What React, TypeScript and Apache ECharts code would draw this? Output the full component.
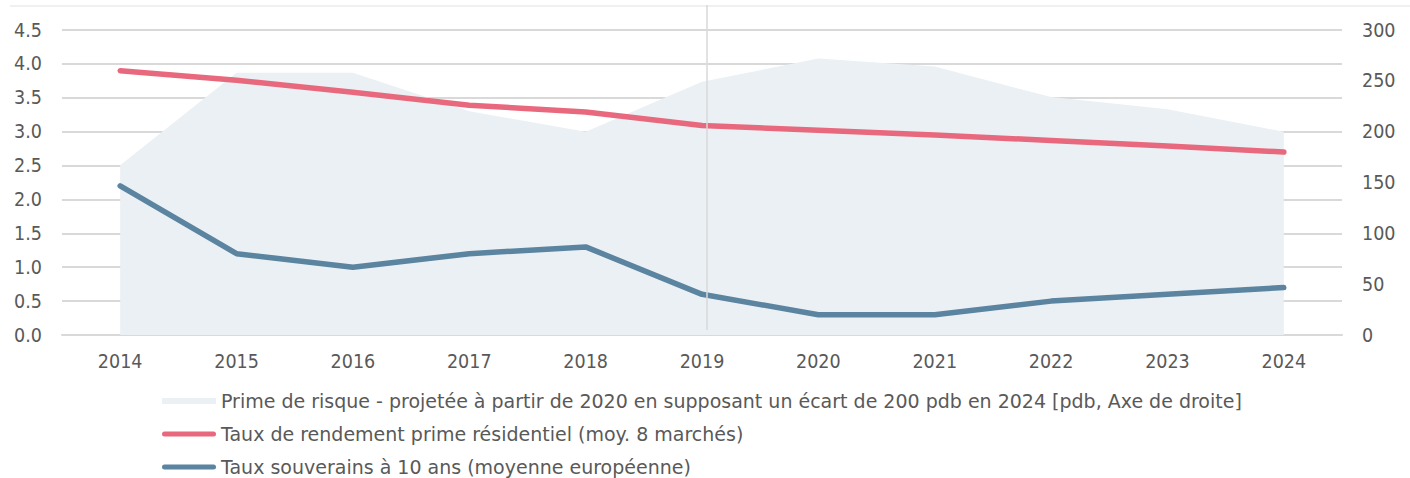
import React, { useEffect, useRef } from "react";
import * as echarts from "echarts";

const years = ["2014", "2015", "2016", "2017", "2018", "2019", "2020", "2021", "2022", "2023", "2024"];
const riskPremium = [167, 258, 258, 220, 200, 249, 272, 264, 234, 222, 200];
const primeYield = [3.9, 3.76, 3.58, 3.39, 3.29, 3.09, 3.02, 2.95, 2.87, 2.79, 2.7];
const sovereign10y = [2.2, 1.2, 1.0, 1.2, 1.3, 0.6, 0.3, 0.3, 0.5, 0.6, 0.7];

const nameArea = "Prime de risque - projetée à partir de 2020 en supposant un écart de 200 pdb en 2024 [pdb, Axe de droite]";
const nameRed = "Taux de rendement prime résidentiel (moy. 8 marchés)";
const nameBlue = "Taux souverains à 10 ans (moyenne européenne)";

const AXFONT = "DejaVu Sans Condensed";
const LGFONT = "DejaVu Sans";
const TXT = "#595959";
const GRID = "#D9D9D9";
const lineIcon = "path://M2.5,0 L51.5,0 A2.5,2.5 0 0 1 51.5,5 L2.5,5 A2.5,2.5 0 0 1 2.5,0 Z";

const legendItem = (name: string, icon: string, top: number) => ({
  orient: "horizontal",
  left: 162,
  top,
  padding: 0,
  itemWidth: 54,
  itemHeight: 6,
  textStyle: { fontFamily: LGFONT, fontSize: 19, color: TXT, lineHeight: 20 },
  data: [{ name, icon }],
});

export default function App() {
  const ref = useRef<HTMLDivElement>(null);
  useEffect(() => {
    if (!ref.current) return;
    const chart = echarts.init(ref.current, undefined, { renderer: "svg" });
    chart.setOption({
      animation: false,
      textStyle: { fontFamily: AXFONT },
      grid: { left: 62, right: 68, top: 30, bottom: 143, containLabel: false },
      legend: [
        legendItem(nameArea, "rect", 391),
        legendItem(nameRed, lineIcon, 424),
        legendItem(nameBlue, lineIcon, 457),
      ],
      graphic: [
        { type: "line", shape: { x1: 10, y1: 6, x2: 1410, y2: 6 }, style: { stroke: "#F0F0F0", lineWidth: 2 } },
        { type: "line", z: 10, shape: { x1: 707, y1: 5, x2: 707, y2: 330 }, style: { stroke: "#D9D9D9", lineWidth: 1.5 } },
      ],
      xAxis: {
        type: "category",
        data: years,
        boundaryGap: true,
        axisLine: { show: true, lineStyle: { color: GRID, width: 2 } },
        axisTick: { show: false },
        axisLabel: { color: TXT, fontSize: 19.5, margin: 16, fontFamily: AXFONT },
      },
      yAxis: [
        {
          type: "value",
          min: 0,
          max: 4.5,
          interval: 0.5,
          axisLine: { show: false },
          axisTick: { show: false },
          splitLine: { lineStyle: { color: GRID, width: 2 } },
          axisLabel: { color: TXT, fontSize: 19.5, margin: 20, fontFamily: AXFONT, formatter: (v: number) => v.toFixed(1) },
        },
        {
          type: "value",
          min: 0,
          max: 300,
          interval: 50,
          position: "right",
          axisLine: { show: false },
          axisTick: { show: false },
          splitLine: { show: false },
          axisLabel: { color: TXT, fontSize: 19.5, margin: 20, fontFamily: AXFONT },
        },
      ],
      series: [
        {
          name: nameArea,
          type: "line",
          yAxisIndex: 1,
          data: riskPremium,
          symbol: "none",
          lineStyle: { width: 0, color: "#EBF0F4" },
          itemStyle: { color: "#EBF0F4" },
          areaStyle: { color: "#EBF0F4", opacity: 1 },
          z: 1,
        },
        {
          name: nameRed,
          type: "line",
          yAxisIndex: 0,
          data: primeYield,
          symbol: "none",
          lineStyle: { width: 5.5, color: "#E8697D", cap: "round" },
          itemStyle: { color: "#E8697D" },
          z: 3,
        },
        {
          name: nameBlue,
          type: "line",
          yAxisIndex: 0,
          data: sovereign10y,
          symbol: "none",
          lineStyle: { width: 5.5, color: "#5B84A0", cap: "round" },
          itemStyle: { color: "#5B84A0" },
          z: 3,
        },
      ],
    });
    return () => chart.dispose();
  }, []);
  return <div ref={ref} style={{ width: 1410, height: 478, position: "absolute", left: 0, top: 0 }} />;
}
